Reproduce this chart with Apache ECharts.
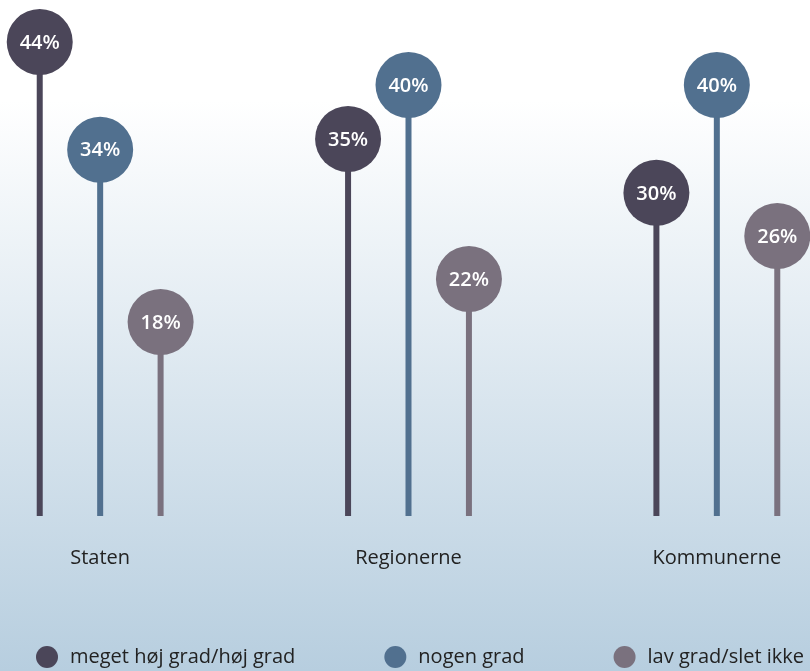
<!DOCTYPE html>
<html>
<head>
<meta charset="utf-8">
<script src="https://cdn.jsdelivr.net/npm/echarts@6/dist/echarts.min.js"></script>
<style>
  html, body { margin: 0; padding: 0; }
  #chart { width: 810px; height: 671px; }
</style>
</head>
<body>
<div id="chart"></div>
<script>
var categories = ['Staten', 'Regionerne', 'Kommunerne'];
var seriesNames = ['meget høj grad/høj grad', 'nogen grad', 'lav grad/slet ikke'];
var hojGrad = [44, 35, 30];
var nogenGrad = [34, 40, 40];
var lavGrad = [18, 22, 26];
var colors = ['#4b4659', '#51708f', '#7a717e'];

var fontFamily = '"Open Sans", "Noto Sans", sans-serif';

// stem + circle with value, offset per series inside the category band
var makeSeries = function (name, values, idx) {
    return {
        name: name,
        type: 'custom',
        itemStyle: { color: colors[idx] },
        data: values.map(function (v, i) { return [i, v]; }),
        renderItem: function (params, api) {
            var cat = api.value(0);
            var val = api.value(1);
            var band = api.size([1, 0])[0];
            var off = (idx - 1) * band * 0.196;
            var top = api.coord([cat, val]);
            var base = api.coord([cat, 0]);
            var x = top[0] + off;
            return {
                type: 'group',
                children: [{
                    type: 'rect',
                    shape: { x: x - 3, y: top[1], width: 6, height: base[1] - top[1] },
                    style: { fill: colors[idx] }
                }, {
                    type: 'circle',
                    shape: { cx: x, cy: top[1], r: 33 },
                    style: { fill: colors[idx] }
                }, {
                    type: 'text',
                    x: x, y: top[1] + 1,
                    style: {
                        text: val + '%',
                        fill: '#ffffff',
                        font: '600 20px ' + fontFamily,
                        align: 'center',
                        verticalAlign: 'middle'
                    }
                }]
            };
        }
    };
};

var chart = echarts.init(document.getElementById('chart'));
chart.setOption({
    backgroundColor: {
        type: 'linear', x: 0, y: 0, x2: 0, y2: 1,
        colorStops: [
            { offset: 0, color: '#ffffff' },
            { offset: 0.15, color: '#ffffff' },
            { offset: 1, color: '#b7cedf' }
        ]
    },
    animation: false,
    grid: { left: -54, right: -61, top: 42, bottom: 155, outerBoundsMode: 'none', containLabel: false },
    xAxis: {
        type: 'category',
        data: categories,
        axisLine: { show: false },
        axisTick: { show: false },
        axisLabel: { margin: 32, fontSize: 20, color: '#222222', fontFamily: fontFamily }
    },
    yAxis: {
        type: 'value',
        min: 0,
        max: 44,
        show: false
    },
    legend: {
        left: 31,
        top: 641,
        icon: 'circle',
        itemWidth: 22,
        itemHeight: 22,
        itemGap: 89,
        textStyle: { fontSize: 20, color: '#222222', fontFamily: fontFamily, padding: [0, 0, 0, 7] },
        data: seriesNames
    },
    series: [
        makeSeries(seriesNames[0], hojGrad, 0),
        makeSeries(seriesNames[1], nogenGrad, 1),
        makeSeries(seriesNames[2], lavGrad, 2)
    ]
});
</script>
</body>
</html>
